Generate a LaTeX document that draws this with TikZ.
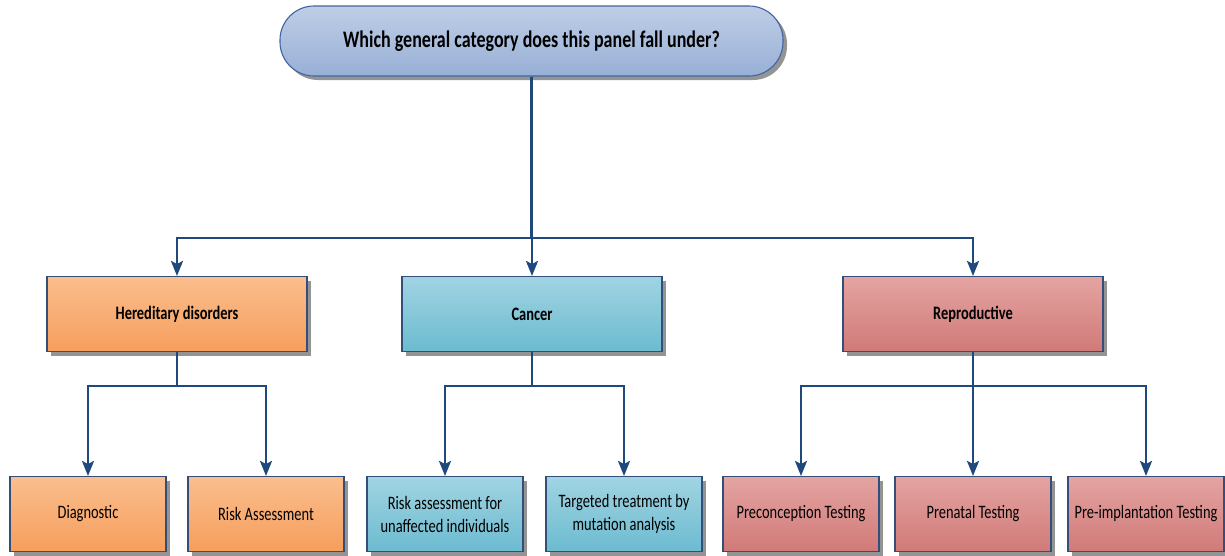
\documentclass[tikz,border=0pt]{standalone}
\usepackage{fontspec}
\setmainfont{Carlito}[FakeStretch=0.76]
\usetikzlibrary{arrows.meta,shadows}
\definecolor{linec}{RGB}{31,73,125}
\definecolor{boxedge}{RGB}{52,78,122}
\definecolor{topA}{RGB}{190,206,230}
\definecolor{topB}{RGB}{152,175,214}
\definecolor{topedge}{RGB}{66,100,160}
\definecolor{orA}{RGB}{250,190,142}
\definecolor{orB}{RGB}{246,158,92}
\definecolor{aqA}{RGB}{160,212,226}
\definecolor{aqB}{RGB}{108,187,208}
\definecolor{rdA}{RGB}{228,164,162}
\definecolor{rdB}{RGB}{208,122,120}
\tikzset{
  shad/.style={drop shadow={shadow xshift=4pt,shadow yshift=-4pt,fill=black!42,opacity=1}},
  box/.style={draw=boxedge,line width=1.1pt,shad,inner sep=0pt,align=center,
     font=\fontsize{19}{23}\selectfont},
  lvtwo/.style={box,minimum width=260pt,minimum height=75pt,font=\fontsize{19}{23}\selectfont\bfseries},
  lvthree/.style={box,minimum width=156pt,minimum height=75pt},
  orange/.style={top color=orA,bottom color=orB},
  aqua/.style={top color=aqA,bottom color=aqB},
  rose/.style={top color=rdA,bottom color=rdB},
  arr/.style={draw=linec,line width=2.3pt,-{Stealth[length=15pt,width=12pt,inset=3pt]}}
}
\begin{document}
\begin{tikzpicture}[x=1pt,y=-1pt]
\useasboundingbox (0,0) rectangle (1225,555);
% top question
\node[draw=topedge,line width=1.1pt,rounded corners=34pt,top color=topA,bottom color=topB,
  shad,minimum width=503pt,minimum height=70pt,inner sep=0pt,
  font=\fontsize{23.7}{28}\selectfont\bfseries] (top) at (531.5,41) {Which general category does this panel fall under?};
% level two
\node[lvtwo,orange] (hered) at (177,314) {Hereditary disorders};
\node[lvtwo,aqua] (cancer) at (532,314) {Cancer};
\node[lvtwo,rose] (repro) at (973,314) {Reproductive};
% level three
\node[lvthree,orange] (diag) at (88,514) {Diagnostic};
\node[lvthree,orange] (risk) at (266,514) {Risk Assessment};
\node[lvthree,aqua] (riskun) at (445,514) {Risk assessment for\\unaffected individuals};
\node[lvthree,aqua] (target) at (624,514) {Targeted treatment by\\mutation analysis};
\node[lvthree,rose] (precon) at (801,514) {Preconception Testing};
\node[lvthree,rose] (prenat) at (973,514) {Prenatal Testing};
\node[lvthree,rose] (preimp) at (1146,514) {Pre-implantation Testing};
% bus coordinates
\coordinate (b0) at (531.5,238);
\coordinate (b1) at (177,386);
\coordinate (b2) at (532,386);
\coordinate (b3) at (973,386);
% connectors
\draw[arr] (top.south) |- (b0) -| (hered.north);
\draw[arr] (top.south) |- (b0) -| (cancer.north);
\draw[arr] (top.south) |- (b0) -| (repro.north);
\draw[arr] (hered.south) |- (b1) -| (diag.north);
\draw[arr] (hered.south) |- (b1) -| (risk.north);
\draw[arr] (cancer.south) |- (b2) -| (riskun.north);
\draw[arr] (cancer.south) |- (b2) -| (target.north);
\draw[arr] (repro.south) |- (b3) -| (precon.north);
\draw[arr] (repro.south) -- (prenat.north);
\draw[arr] (repro.south) |- (b3) -| (preimp.north);
\end{tikzpicture}
\end{document}
